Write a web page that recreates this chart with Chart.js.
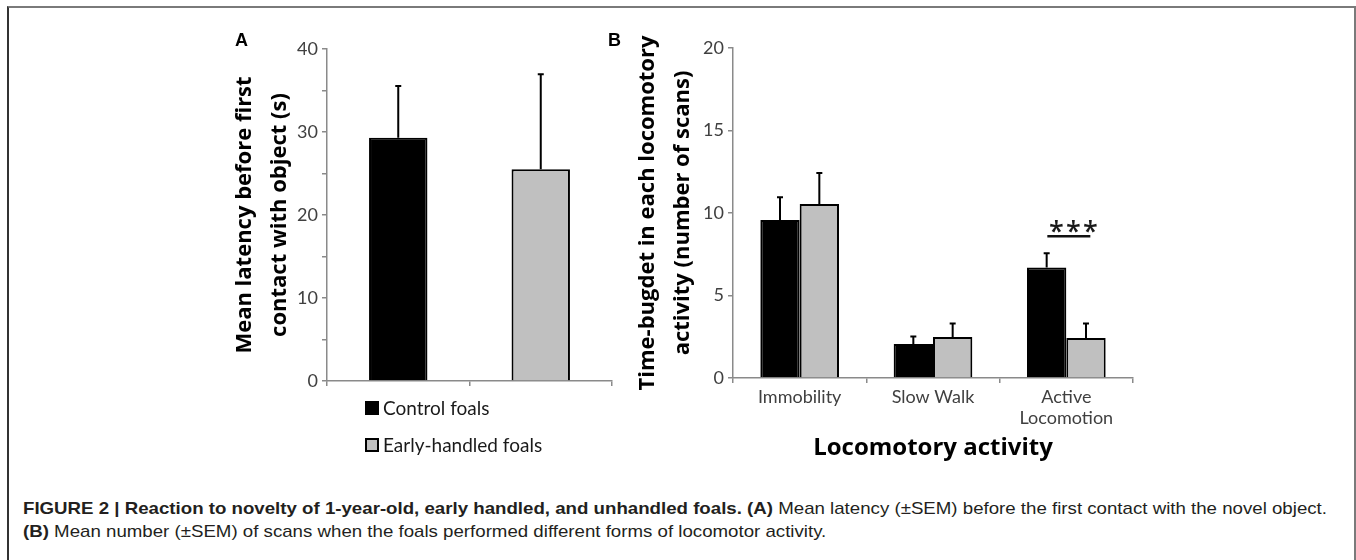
<!DOCTYPE html>
<html><head><meta charset="utf-8">
<script src="https://cdn.jsdelivr.net/npm/chart.js@4.4.0/dist/chart.umd.min.js"></script>
<style>
html,body{margin:0;padding:0;background:#fff;}
#wrap{position:relative;width:1356px;height:560px;overflow:hidden;background:#fff;}
#frame{position:absolute;left:7px;top:6px;width:1349px;height:570px;border-top:2px solid #7a7a7a;border-left:2px solid #333;border-right:2px solid #7a7a7a;box-sizing:border-box;}
canvas{position:absolute;}
#cA{left:197px;top:0;}
#cB{left:603px;top:0;}
.plab{position:absolute;font:bold 18px "Liberation Sans",Arial,sans-serif;color:#000;line-height:1;}
#legend{position:absolute;left:365px;top:389px;font:19px Lato,sans-serif;color:#1a1a1a;}
.li{display:flex;align-items:center;height:37px;white-space:nowrap;}
.sw{width:10px;height:10px;border:2px solid #000;margin-right:4px;}
#caption{position:absolute;left:23px;top:497px;font:16.6px "Liberation Sans",Arial,sans-serif;color:#231f20;line-height:23px;}
#caption div{white-space:nowrap;transform-origin:0 0;}
</style></head>
<body><div id="wrap">
<div id="frame"></div>
<canvas id="cA" width="430" height="401"></canvas>
<canvas id="cB" width="560" height="470"></canvas>
<div class="plab" style="left:235px;top:31px;">A</div>
<div class="plab" style="left:608px;top:31px;">B</div>
<div id="legend"></div>
<div id="caption">
<div id="cap1"><b>FIGURE 2 | Reaction to novelty of 1-year-old, early handled, and unhandled foals. (A)</b> Mean latency (±SEM) before the first contact with the novel object.</div>
<div id="cap2"><b>(B)</b> Mean number (±SEM) of scans when the foals performed different forms of locomotor activity.</div>
</div>
</div>
<script>
// ---- data ----
const seriesNames = ['Control foals', 'Early-handled foals'];
const seriesColors = ['#000000', '#c0c0c0'];

// Panel A
const categoriesA = ['Control foals', 'Early-handled foals'];
const controlA = [29.3, null];
const earlyA = [null, 25.5];
const controlSemA = [6.25, null];
const earlySemA = [null, 11.46];
const yTitleA = ['Mean latency before first', 'contact with object (s)'];

// Panel B
const categoriesB = ['Immobility', 'Slow Walk', ['Active', 'Locomotion']];
const controlB = [9.58, 2.06, 6.69];
const earlyB = [10.54, 2.48, 2.42];
const controlSemB = [1.37, 0.46, 0.87];
const earlySemB = [1.88, 0.82, 0.88];
const significanceB = ['', '', '***'];
const yTitleB = ['Time-bugdet in each locomotory', 'activity (number of scans)'];
const xTitleB = 'Locomotory activity';

// ---- plugins ----
const errorBars = {
  id: 'errorBars',
  afterDatasetsDraw(chart) {
    const ctx = chart.ctx, y = chart.scales.y;
    chart.data.datasets.forEach((ds, i) => {
      const meta = chart.getDatasetMeta(i);
      meta.data.forEach((bar, j) => {
        const v = ds.data[j], e = ds.sem ? ds.sem[j] : null;
        if (v == null || e == null) return;
        const y0 = y.getPixelForValue(v), y1 = y.getPixelForValue(v + e);
        ctx.save();
        ctx.strokeStyle = '#000'; ctx.lineWidth = 2;
        ctx.beginPath();
        ctx.moveTo(bar.x, y0); ctx.lineTo(bar.x, y1);
        ctx.moveTo(bar.x - 3, y1); ctx.lineTo(bar.x + 3, y1);
        ctx.stroke();
        ctx.restore();
      });
    });
  }
};
const sigMarks = {
  id: 'sigMarks',
  afterDatasetsDraw(chart, args, opts) {
    const marks = opts.marks || [];
    const ctx = chart.ctx, x = chart.scales.x, y = chart.scales.y;
    marks.forEach((m, j) => {
      if (!m) return;
      let top = 0;
      chart.data.datasets.forEach(ds => {
        const v = ds.data[j], e = ds.sem ? ds.sem[j] : 0;
        if (v != null) top = Math.max(top, v + (e || 0));
      });
      const cx = x.getPixelForValue(j);
      const py = y.getPixelForValue(top);
      const ly = py - 17;
      ctx.save();
      ctx.fillStyle = '#1a1a1a';
      ctx.font = '600 27px "Open Sans", sans-serif';
      ctx.textAlign = 'center';
      ctx.textBaseline = 'alphabetic';
      m.split('').forEach((c, k) => {
        ctx.fillText(c, cx - 10 + k * 17, ly + 5);
      });
      ctx.strokeStyle = '#111'; ctx.lineWidth = 2.5;
      ctx.beginPath();
      ctx.moveTo(cx - 19, ly); ctx.lineTo(cx + 24, ly);
      ctx.stroke();
      ctx.restore();
    });
  }
};

const axisColor = '#8a8a8a';
const tickFont = { family: 'Lato', size: 18 };
const titleFont = { family: 'Open Sans', size: 22, weight: 'bold', lineHeight: 1.6 };

const chartA = new Chart(document.getElementById('cA'), {
  type: 'bar',
  data: {
    labels: categoriesA,
    datasets: [
      { label: seriesNames[0], data: controlA, sem: controlSemA, backgroundColor: seriesColors[0], borderColor: '#000', borderWidth: 2 },
      { label: seriesNames[1], data: earlyA, sem: earlySemA, backgroundColor: seriesColors[1], borderColor: '#000', borderWidth: 2 }
    ]
  },
  options: {
    responsive: false, animation: false,
    layout: { padding: { top: 49, right: 15, bottom: 0, left: 0 } },
    datasets: { bar: { skipNull: true, barPercentage: 1, categoryPercentage: 0.41 } },
    plugins: { legend: { display: false }, tooltip: { enabled: false } },
    scales: {
      x: {
        grid: { offset: true, drawOnChartArea: false, drawTicks: true, tickLength: 5, color: axisColor, lineWidth: 1.5 },
        border: { color: axisColor, width: 1.5 },
        ticks: { display: false },
        afterFit(s) { s.height = 20; }
      },
      y: {
        min: 0, max: 40,
        ticks: { stepSize: 5, callback: v => (v % 10 === 0 ? v : ''), font: tickFont, color: '#404040', padding: 4 },
        grid: { drawOnChartArea: false, tickLength: 5, color: axisColor, lineWidth: 1.5 },
        border: { color: axisColor, width: 1.5 },
        title: { display: true, text: yTitleA, color: '#000', font: titleFont, padding: { top: 30, bottom: 0 } },
        afterFit(s) { s.width = 130; }
      }
    }
  },
  plugins: [errorBars]
});

new Chart(document.getElementById('cB'), {
  type: 'bar',
  data: {
    labels: categoriesB,
    datasets: [
      { label: seriesNames[0], data: controlB, sem: controlSemB, backgroundColor: seriesColors[0], borderColor: '#000', borderWidth: 2 },
      { label: seriesNames[1], data: earlyB, sem: earlySemB, backgroundColor: seriesColors[1], borderColor: '#000', borderWidth: 2 }
    ]
  },
  options: {
    responsive: false, animation: false,
    layout: { padding: { top: 48, right: 30, bottom: 0, left: 0 } },
    datasets: { bar: { barPercentage: 1, categoryPercentage: 0.59 } },
    plugins: { legend: { display: false }, tooltip: { enabled: false }, sigMarks: { marks: significanceB } },
    scales: {
      x: {
        grid: { offset: true, drawOnChartArea: false, drawTicks: true, tickLength: 5, color: axisColor, lineWidth: 1.5 },
        border: { color: axisColor, width: 1.5 },
        ticks: { font: tickFont, color: '#404040', padding: 3 },
        title: { display: true, text: xTitleB, color: '#000', font: { family: 'Open Sans', size: 24, weight: 'bold', lineHeight: 1.2 }, padding: { top: 0, bottom: 7 } },
        afterFit(s) { s.height = 92; }
      },
      y: {
        min: 0, max: 20,
        ticks: { stepSize: 5, font: tickFont, color: '#404040', padding: 4 },
        grid: { drawOnChartArea: false, tickLength: 5, color: axisColor, lineWidth: 1.5 },
        border: { color: axisColor, width: 1.5 },
        title: { display: true, text: yTitleB, color: '#000', font: titleFont, padding: { top: 27, bottom: 0 } },
        afterFit(s) { s.width = 130; }
      }
    }
  },
  plugins: [errorBars, sigMarks]
});

// legend built from chart A datasets
const leg = document.getElementById('legend');
chartA.data.datasets.forEach(ds => {
  const row = document.createElement('div'); row.className = 'li';
  const sw = document.createElement('span'); sw.className = 'sw'; sw.style.background = ds.backgroundColor;
  const tx = document.createElement('span'); tx.textContent = ds.label;
  row.appendChild(sw); row.appendChild(tx); leg.appendChild(row);
});

// caption width fit
const c1 = document.getElementById('cap1'), c2 = document.getElementById('cap2');
c1.style.display = 'inline-block';
const w = c1.getBoundingClientRect().width;
const k = 1304 / w;
c1.style.display = 'block';
c1.style.transform = 'scaleX(' + k + ')';
c2.style.transform = 'scaleX(' + k + ')';
</script>
</body></html>
